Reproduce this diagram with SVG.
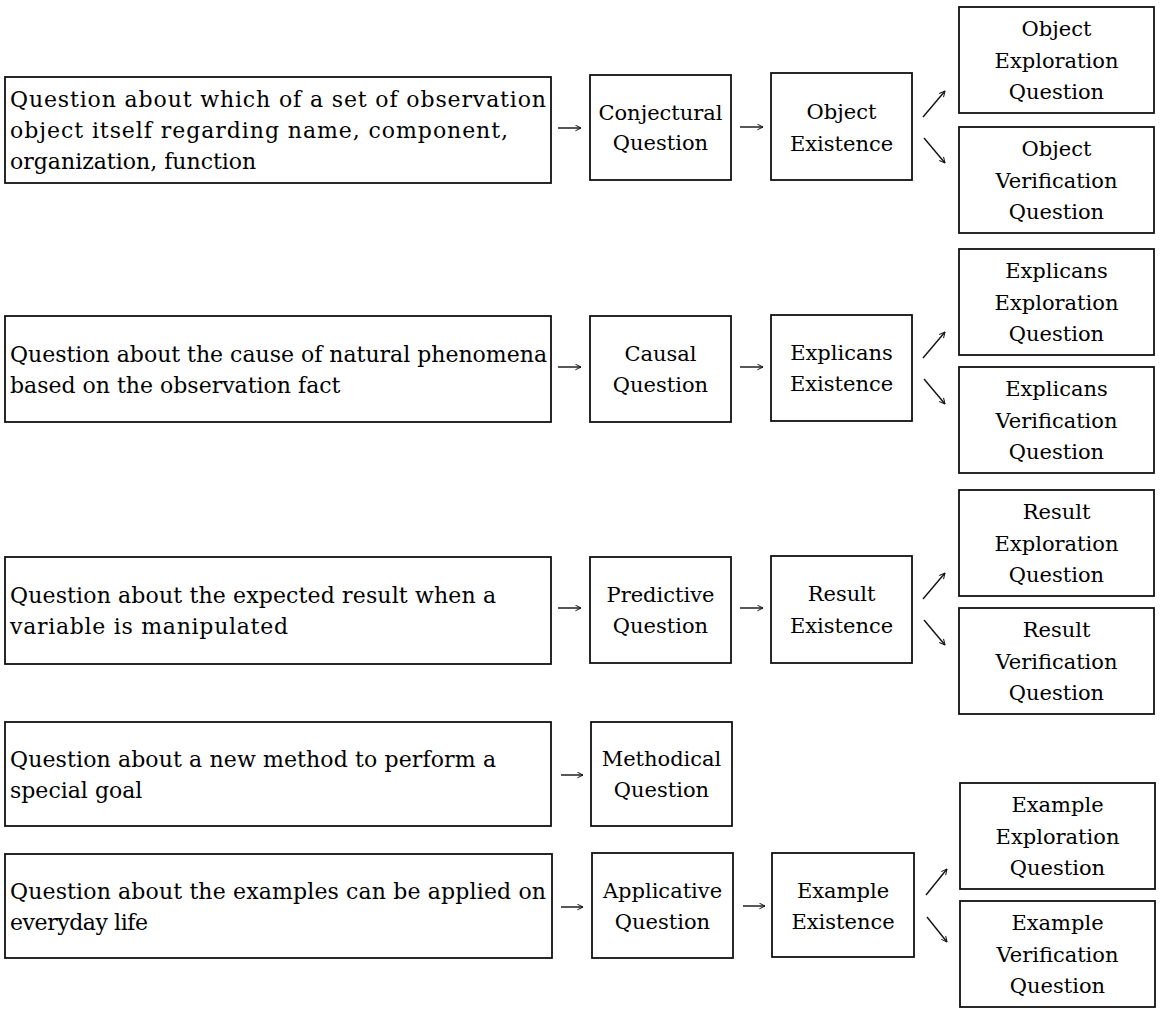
<svg xmlns="http://www.w3.org/2000/svg" width="1160" height="1011" viewBox="0 0 1160 1011">
<style>
  .box { fill: #fff; stroke: #111; stroke-width: 1.8; }
  .t { font-family: "DejaVu Serif", "Liberation Serif", serif; font-size: 21px; fill: #000; dominant-baseline: central; }
  .l { font-size: 22px; }
  .c { text-anchor: middle; }
  .conn { stroke: #111; stroke-width: 1.4; fill: none; marker-end: url(#ah); }
</style>
<defs>
  <marker id="ah" viewBox="0 0 10 10" refX="9" refY="5" markerWidth="7" markerHeight="7" markerUnits="userSpaceOnUse" orient="auto">
    <path d="M1,1 L9,5 L1,9" fill="none" stroke="#111" stroke-width="1.4"/>
  </marker>
</defs>
<rect width="1160" height="1011" fill="#fff"/>

<!-- Row 1 -->
<g id="q-observation-object">
  <rect class="box" x="5" y="77" width="546" height="106"/>
  <text class="t l" x="10" y="99" textLength="536" lengthAdjust="spacing">Question about which of a set of observation</text>
  <text class="t l" x="10" y="130" textLength="498" lengthAdjust="spacing">object itself regarding name, component,</text>
  <text class="t l" x="10" y="161">organization, function</text>
</g>
<g id="conjectural-question">
  <rect class="box" x="590" y="75" width="141" height="105"/>
  <text class="t c" x="660.5" y="113">Conjectural</text>
  <text class="t c" x="660.5" y="143">Question</text>
</g>
<g id="object-existence">
  <rect class="box" x="771" y="73" width="141" height="107"/>
  <text class="t c" x="841.5" y="112">Object</text>
  <text class="t c" x="841.5" y="144">Existence</text>
</g>
<g id="object-exploration">
  <rect class="box" x="959" y="7" width="195" height="106"/>
  <text class="t c" x="1056.5" y="29">Object</text>
  <text class="t c" x="1056.5" y="61">Exploration</text>
  <text class="t c" x="1056.5" y="92">Question</text>
</g>
<g id="object-verification">
  <rect class="box" x="959" y="127" width="195" height="106"/>
  <text class="t c" x="1056.5" y="149">Object</text>
  <text class="t c" x="1056.5" y="181">Verification</text>
  <text class="t c" x="1056.5" y="212">Question</text>
</g>

<!-- Row 2 -->
<g id="q-cause">
  <rect class="box" x="5" y="316" width="546" height="106"/>
  <text class="t l" x="10" y="354" textLength="537" lengthAdjust="spacing">Question about the cause of natural phenomena</text>
  <text class="t l" x="10" y="385">based on the observation fact</text>
</g>
<g id="causal-question">
  <rect class="box" x="590" y="316" width="141" height="106"/>
  <text class="t c" x="660.5" y="354">Causal</text>
  <text class="t c" x="660.5" y="385">Question</text>
</g>
<g id="explicans-existence">
  <rect class="box" x="771" y="315" width="141" height="106"/>
  <text class="t c" x="841.5" y="353">Explicans</text>
  <text class="t c" x="841.5" y="384">Existence</text>
</g>
<g id="explicans-exploration">
  <rect class="box" x="959" y="249" width="195" height="106"/>
  <text class="t c" x="1056.5" y="271">Explicans</text>
  <text class="t c" x="1056.5" y="303">Exploration</text>
  <text class="t c" x="1056.5" y="334">Question</text>
</g>
<g id="explicans-verification">
  <rect class="box" x="959" y="367" width="195" height="106"/>
  <text class="t c" x="1056.5" y="389">Explicans</text>
  <text class="t c" x="1056.5" y="421">Verification</text>
  <text class="t c" x="1056.5" y="452">Question</text>
</g>

<!-- Row 3 -->
<g id="q-expected-result">
  <rect class="box" x="5" y="557" width="546" height="107"/>
  <text class="t l" x="10" y="595" textLength="486" lengthAdjust="spacing">Question about the expected result when a</text>
  <text class="t l" x="10" y="626" textLength="278" lengthAdjust="spacing">variable is manipulated</text>
</g>
<g id="predictive-question">
  <rect class="box" x="590" y="557" width="141" height="106"/>
  <text class="t c" x="660.5" y="595">Predictive</text>
  <text class="t c" x="660.5" y="626">Question</text>
</g>
<g id="result-existence">
  <rect class="box" x="771" y="556" width="141" height="107"/>
  <text class="t c" x="841.5" y="594">Result</text>
  <text class="t c" x="841.5" y="626">Existence</text>
</g>
<g id="result-exploration">
  <rect class="box" x="959" y="490" width="195" height="106"/>
  <text class="t c" x="1056.5" y="512">Result</text>
  <text class="t c" x="1056.5" y="544">Exploration</text>
  <text class="t c" x="1056.5" y="575">Question</text>
</g>
<g id="result-verification">
  <rect class="box" x="959" y="608" width="195" height="106"/>
  <text class="t c" x="1056.5" y="630">Result</text>
  <text class="t c" x="1056.5" y="662">Verification</text>
  <text class="t c" x="1056.5" y="693">Question</text>
</g>

<!-- Row 4 -->
<g id="q-new-method">
  <rect class="box" x="5" y="722" width="546" height="104"/>
  <text class="t l" x="10" y="759" textLength="486" lengthAdjust="spacing">Question about a new method to perform a</text>
  <text class="t l" x="10" y="790">special goal</text>
</g>
<g id="methodical-question">
  <rect class="box" x="591" y="722" width="141" height="104"/>
  <text class="t c" x="661.5" y="759">Methodical</text>
  <text class="t c" x="661.5" y="790">Question</text>
</g>

<!-- Row 5 -->
<g id="q-examples">
  <rect class="box" x="5" y="854" width="547" height="104"/>
  <text class="t l" x="10" y="891" textLength="536" lengthAdjust="spacing">Question about the examples can be applied on</text>
  <text class="t l" x="10" y="922" textLength="138" lengthAdjust="spacing">everyday life</text>
</g>
<g id="applicative-question">
  <rect class="box" x="592" y="853" width="141" height="105"/>
  <text class="t c" x="662.5" y="891">Applicative</text>
  <text class="t c" x="662.5" y="922">Question</text>
</g>
<g id="example-existence">
  <rect class="box" x="772" y="853" width="142" height="104"/>
  <text class="t c" x="843" y="891">Example</text>
  <text class="t c" x="843" y="922">Existence</text>
</g>
<g id="example-exploration">
  <rect class="box" x="960" y="783" width="195" height="106"/>
  <text class="t c" x="1057.5" y="805">Example</text>
  <text class="t c" x="1057.5" y="837">Exploration</text>
  <text class="t c" x="1057.5" y="868">Question</text>
</g>
<g id="example-verification">
  <rect class="box" x="960" y="901" width="195" height="106"/>
  <text class="t c" x="1057.5" y="923">Example</text>
  <text class="t c" x="1057.5" y="955">Verification</text>
  <text class="t c" x="1057.5" y="986">Question</text>
</g>

<g id="connectors">
  <!-- row 1 -->
  <line class="conn" x1="558" y1="128" x2="581" y2="128"/>
  <line class="conn" x1="740" y1="127" x2="763" y2="127"/>
  <line class="conn" x1="923" y1="117" x2="945" y2="91"/>
  <line class="conn" x1="924" y1="138" x2="945" y2="163"/>
  <!-- row 2 -->
  <line class="conn" x1="558" y1="367" x2="581" y2="367"/>
  <line class="conn" x1="740" y1="367" x2="763" y2="367"/>
  <line class="conn" x1="923" y1="358" x2="945" y2="332"/>
  <line class="conn" x1="924" y1="379" x2="945" y2="404"/>
  <!-- row 3 -->
  <line class="conn" x1="558" y1="608" x2="581" y2="608"/>
  <line class="conn" x1="740" y1="608" x2="763" y2="608"/>
  <line class="conn" x1="923" y1="599" x2="945" y2="573"/>
  <line class="conn" x1="924" y1="620" x2="945" y2="645"/>
  <!-- row 4 -->
  <line class="conn" x1="561" y1="775" x2="583" y2="775"/>
  <!-- row 5 -->
  <line class="conn" x1="561" y1="907" x2="583" y2="907"/>
  <line class="conn" x1="743" y1="906" x2="765" y2="906"/>
  <line class="conn" x1="926" y1="895" x2="947" y2="869"/>
  <line class="conn" x1="927" y1="917" x2="947" y2="942"/>
</g>
</svg>
